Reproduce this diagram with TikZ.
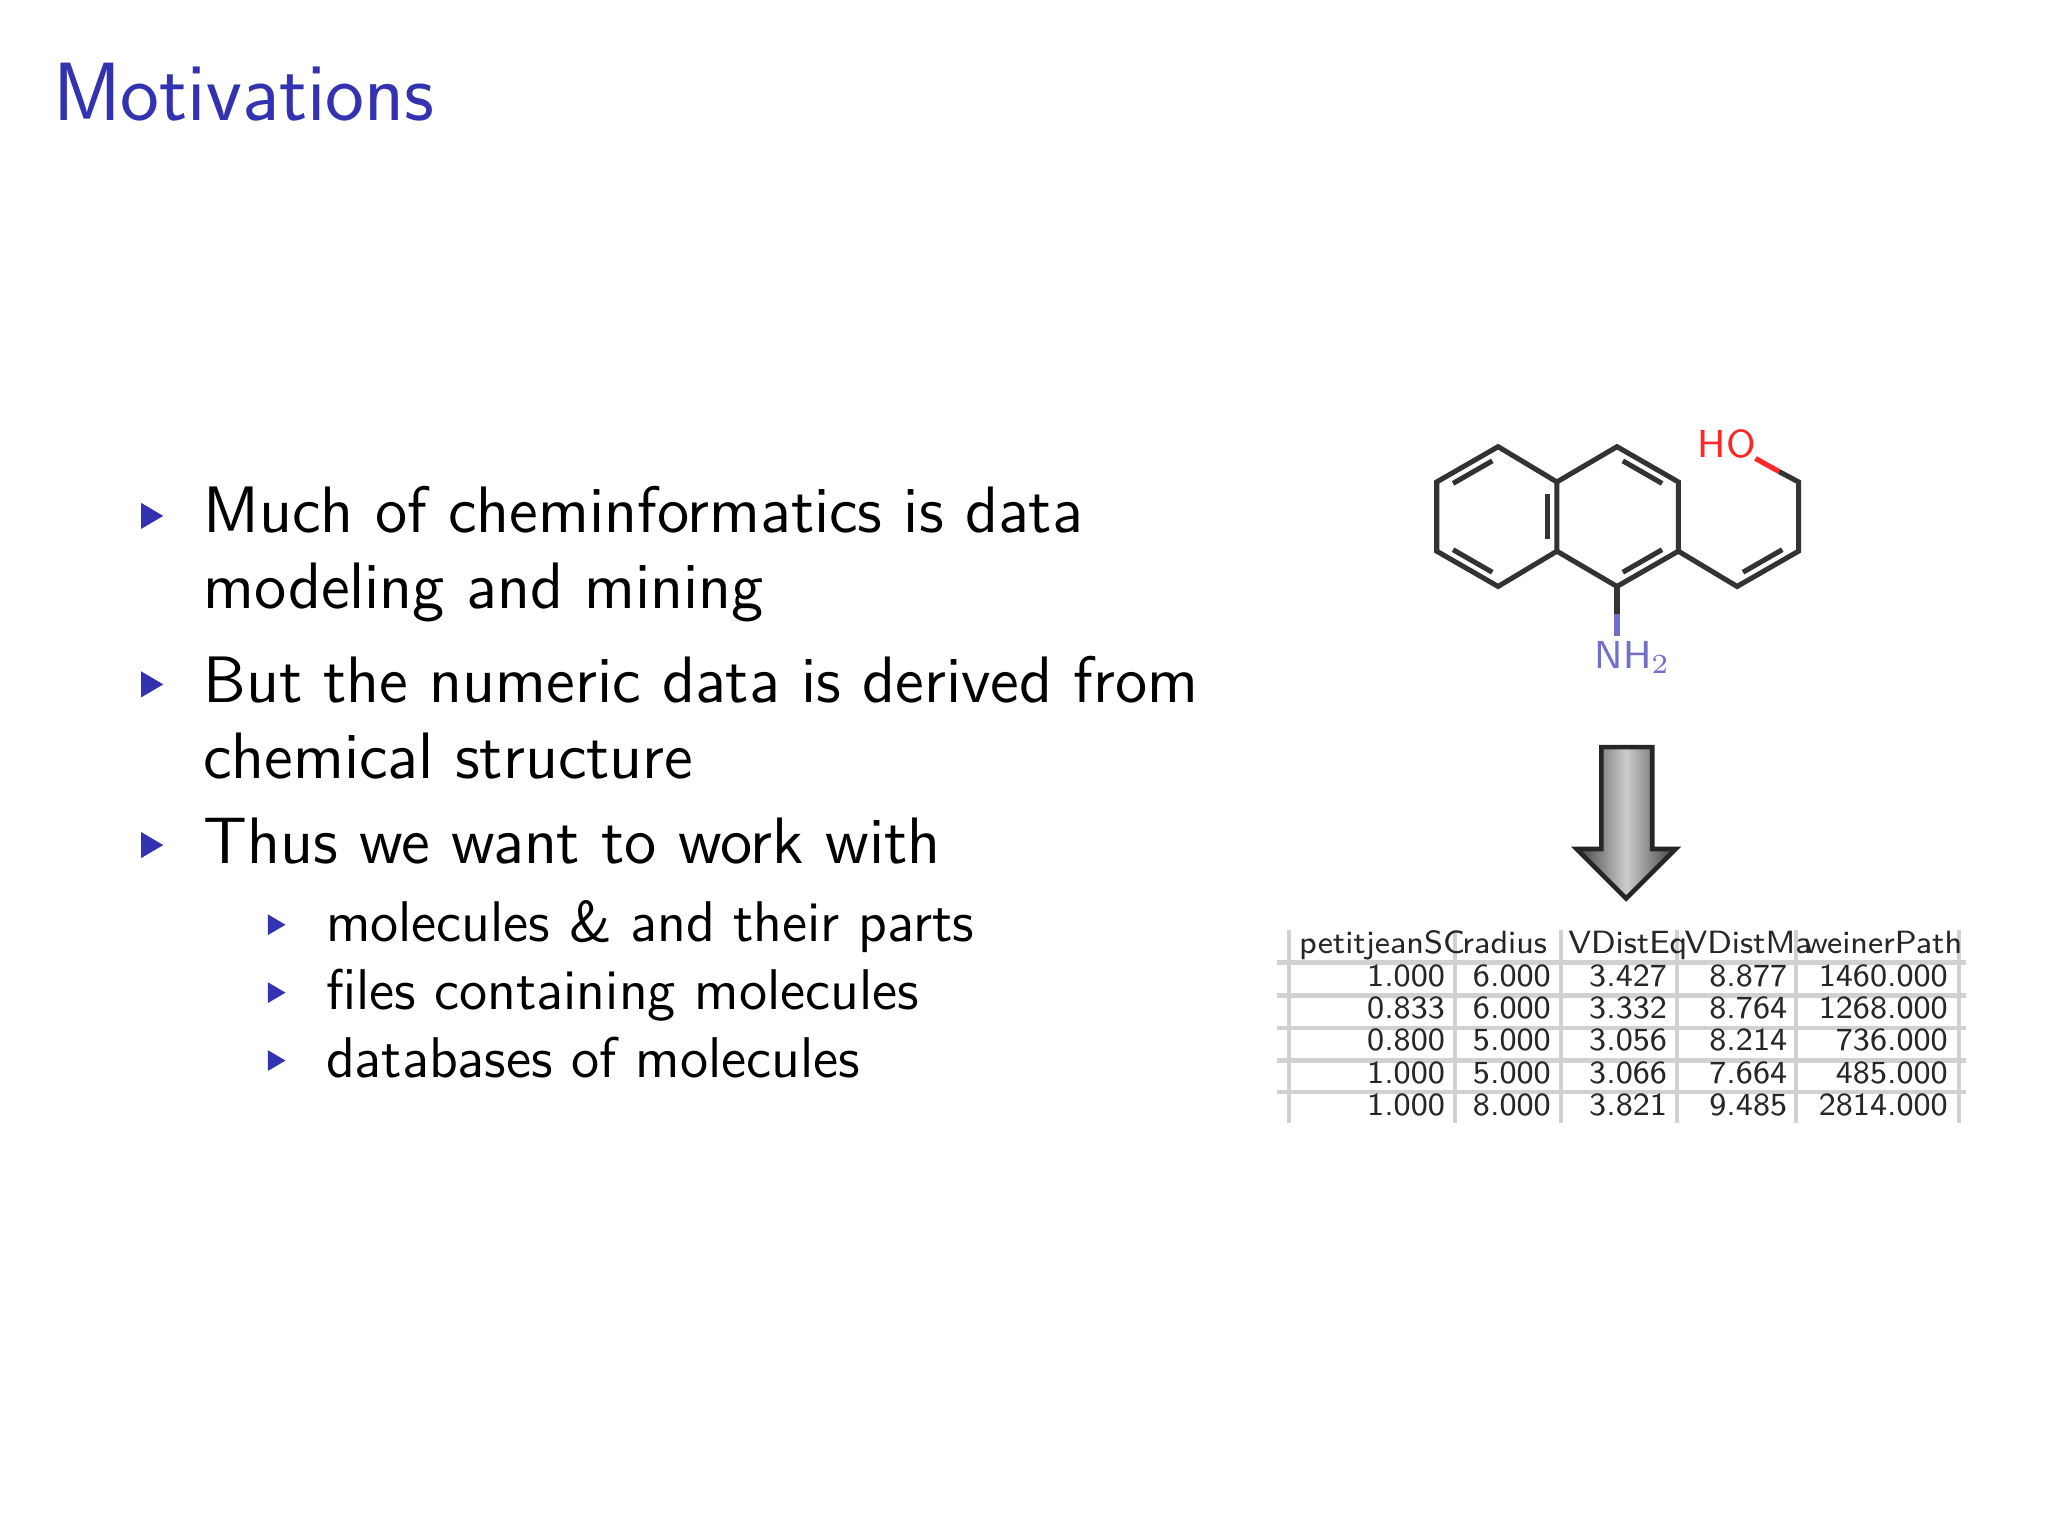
\documentclass[tikz,border=0pt]{standalone}
\usepackage{tikz}
\usetikzlibrary{calc}
\definecolor{bblue}{RGB}{51,51,178}
\begin{document}
\begin{tikzpicture}[x=0.01cm,y=-0.01cm,
  bond/.style={line width=1.1pt,draw=black!80},
  txt/.style={anchor=base west,inner sep=0,font=\sffamily\fontsize{14.3}{17}\selectfont},
  stxt/.style={anchor=base west,inner sep=0,font=\sffamily\fontsize{12.5}{15}\selectfont},
  cell/.style={anchor=base east,inner sep=0,font=\sffamily\fontsize{7}{8}\selectfont,text=black!85},
  hcell/.style={anchor=base west,inner sep=0,font=\sffamily\fontsize{7}{8}\selectfont,text=black!85},
  tline/.style={draw=black!18,line width=1pt}]
\useasboundingbox (0,0) rectangle (1568,1176);
\fill[white] (0,0) rectangle (1568,1176);
\node[anchor=base west,inner sep=0,text=bblue,font=\sffamily\fontsize{18}{22}\selectfont] (title) at (40,92) {Motivations};
% bullets
\newcommand{\tri}[3]{\fill[bblue] (#1,#2-#3) -- (#1+1.7*#3,#2) -- (#1,#2+#3) -- cycle;}
\tri{108}{395}{10}
\tri{108}{524}{10}
\tri{108}{647}{10}
\tri{205}{708}{8}
\tri{205}{760}{8}
\tri{205}{812}{8}
\node[txt] (l1) at (155,408) {Much of cheminformatics is data};
\node[txt] (l1b) at (155,466) {modeling and mining};
\node[txt] (l2) at (155,538) {But the numeric data is derived from};
\node[txt] (l2b) at (155,596) {chemical structure};
\node[txt] (l3) at (155,661) {Thus we want to work with};
\node[stxt] (s1) at (249,721) {molecules \& and their parts};
\node[stxt] (s2) at (249,773) {files containing molecules};
\node[stxt] (s3) at (249,825) {databases of molecules};
% molecule
\coordinate (a1) at (1147,342); \coordinate (a2) at (1100,369);
\coordinate (a3) at (1100,422); \coordinate (a4) at (1147,449);
\coordinate (a5) at (1192,422); \coordinate (a6) at (1192,369);
\coordinate (b1) at (1238,342); \coordinate (b2) at (1285,369);
\coordinate (b3) at (1285,422); \coordinate (b4) at (1238,449);
\coordinate (c1) at (1330,449); \coordinate (c2) at (1377,422);
\coordinate (c3) at (1377,369);
\draw[bond] (a1)--(a2)--(a3)--(a4)--(a5)--(a6)--cycle;
\draw[bond] (a6)--(b1)--(b2)--(b3)--(b4)--(a5);
\draw[bond] (b3)--(c1)--(c2)--(c3)--(1362,361);
\draw[bond,draw=red!85] (1362,361)--(1344,351);
\draw[bond] (b4)--(1238,470);
\draw[bond,draw=bblue!70] (1238,470)--(1238,487);
% inner double bonds
\draw[bond] ($(a1)!0.18!(a2)+(4,6)$)--($(a1)!0.82!(a2)+(4,6)$);
\draw[bond] ($(a3)!0.18!(a4)+(4,-6)$)--($(a3)!0.82!(a4)+(4,-6)$);
\draw[bond] ($(a5)!0.18!(a6)+(-7,0)$)--($(a5)!0.82!(a6)+(-7,0)$);
\draw[bond] ($(b1)!0.18!(b2)+(-4,6)$)--($(b1)!0.82!(b2)+(-4,6)$);
\draw[bond] ($(b3)!0.18!(b4)+(-4,-6)$)--($(b3)!0.82!(b4)+(-4,-6)$);
\draw[bond] ($(c1)!0.18!(c2)+(-4,-6)$)--($(c1)!0.82!(c2)+(-4,-6)$);
\node[anchor=base,inner sep=0,text=red!85,font=\sffamily\fontsize{8.5}{10}\selectfont] (ho) at (1322,350) {HO};
\node[anchor=base,inner sep=0,text=bblue!70,font=\sffamily\fontsize{8.5}{10}\selectfont] (nh) at (1250,512) {NH$_2$};
% arrow
\shade[left color=black!75,right color=black!75,middle color=black!20,draw=black!85,line width=1pt]
 (1226,572) -- (1265,572) -- (1265,650) -- (1283,650) -- (1245,688) -- (1207,650) -- (1226,650) -- cycle;
% table
\foreach \x in {987,1114,1195,1284,1375,1500} \draw[tline] (\x,712)--(\x,860);
\foreach \y in {737,762,787,812,836} \draw[tline] (978,\y)--(1505,\y);
\node[hcell] (h1) at (994,730) {petitjeanSC};
\node[hcell] (h2) at (1119,730) {radius};
\node[hcell] (h3) at (1200,730) {VDistEq};
\node[hcell] (h4) at (1289,730) {VDistMa};
\node[hcell] (h5) at (1381,730) {weinerPath};
\foreach \r/\a/\b/\c/\d/\e in {0/1.000/6.000/3.427/8.877/1460.000,1/0.833/6.000/3.332/8.764/1268.000,2/0.800/5.000/3.056/8.214/736.000,3/1.000/5.000/3.066/7.664/485.000,4/1.000/8.000/3.821/9.485/2814.000}{
 \node[cell] at (1107,755+24.8*\r) {\a};
 \node[cell] at (1188,755+24.8*\r) {\b};
 \node[cell] at (1277,755+24.8*\r) {\c};
 \node[cell] at (1369,755+24.8*\r) {\d};
 \node[cell] at (1492,755+24.8*\r) {\e};
}
\end{tikzpicture}
\end{document}
